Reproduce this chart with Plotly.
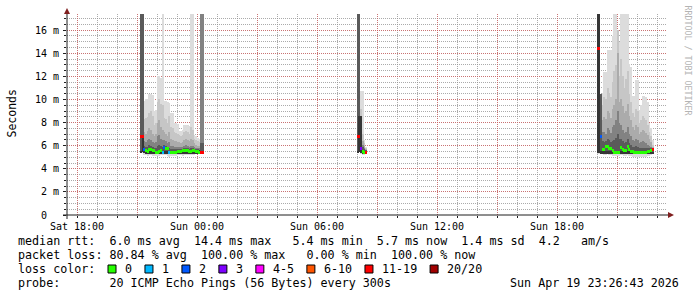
import plotly.graph_objects as go
import pandas as pd

# ---------------- data ----------------
STEP_MS = 300_000  # one probe round every 300 s
SEG_STARTS = ["2026-04-18 21:10:00", "2026-04-19 08:00:00", "2026-04-19 20:00:00"]

# segment 1 (Sat 21:10 .. Sun 00:15)
SEG1_L1 = [25, 25, 9.9, 10.0, 10.0, 10.5, 10.5, 10.4, 9.0, 9.1, 12.0, 12.0, 11.9, 25, 9.9, 9.9, 9.8, 9.7, 8.8, 8.8,
           8.0, 8.0, 7.9, 7.3, 7.3, 7.4, 7.8, 7.8, 7.8, 7.7, 25, 25, 6.9, 6.8, 6.7, 6.6, 25, 25]
SEG1_L2 = [25, 25, 8.3, 8.4, 8.5, 8.8, 9.0, 8.6, 7.8, 8.0, 9.8, 10.0, 9.6, 9.5, 8.4, 8.3, 8.0, 8.6, 7.6, 7.5,
           7.2, 7.1, 7.0, 6.9, 6.8, 6.9, 7.2, 7.3, 7.2, 7.0, 7.6, 7.4, 6.6, 6.5, 6.4, 6.3, 25, 25]
SEG1_L3 = [25, 25, 7.2, 7.0, 7.3, 7.5, 7.4, 7.0, 6.8, 7.0, 8.0, 8.2, 7.6, 7.4, 7.2, 7.0, 6.8, 7.2, 6.6, 6.5,
           6.4, 6.4, 6.3, 6.3, 6.2, 6.3, 6.5, 6.6, 6.5, 6.4, 6.6, 6.5, 6.2, 6.1, 6.0, 6.0, 25, 25]
SEG1_L4 = [25, 25, 6.4, 6.3, 6.5, 6.6, 6.5, 6.3, 6.2, 6.3, 6.8, 6.9, 6.6, 6.5, 6.5, 6.4, 6.2, 6.3, 6.0, 6.0,
           5.9, 5.9, 5.9, 5.9, 5.9, 5.9, 6.0, 6.1, 6.0, 5.9, 6.0, 6.0, 5.9, 5.8, 5.8, 5.8, 25, 25]
SEG1_L5 = [25, 25, 6.0, 5.9, 5.9, 6.1, 6.0, 5.9, 5.8, 5.8, 6.0, 6.1, 6.0, 5.9, 6.1, 6.0, 5.9, 5.8, 5.7, 5.7,
           5.7, 5.7, 5.7, 5.7, 5.7, 5.7, 5.8, 5.8, 5.8, 5.7, 5.8, 5.8, 5.7, 5.7, 5.7, 5.6, 6.2, 6.2]
SEG1_L6 = [5.5, 6.8, 5.8, 5.5, 5.5, 5.5, 5.5, 5.5, 5.5, 5.5, 5.5, 5.5, 5.5, 5.5, 5.5, 5.5, 5.5, 5.5, 5.5, 5.5,
           5.5, 5.5, 5.5, 5.5, 5.5, 5.5, 5.5, 5.5, 5.5, 5.5, 5.5, 5.5, 5.5, 5.5, 5.5, 5.6, 5.5, 5.5]
SEG1_MIN = [5.4, 5.4, 5.2, 5.2, 5.15, 5.2, 5.2, 5.15, 5.1, 5.1, 5.1, 5.15, 5.2, 5.2, 5.2, 5.2, 5.1, 5.05, 5.1, 5.1,
            5.15, 5.15, 5.2, 5.2, 5.2, 5.15, 5.2, 5.2, 5.2, 5.2, 5.2, 5.2, 5.2, 5.25, 5.25, 5.25, 5.3, 5.3]
SEG1_CORE_LOW = [5.45, 5.45, 5.35, 5.35, 5.3, 5.35, 5.35, 5.3, 5.3, 5.3, 5.3, 5.3, 5.35, 5.35, 5.35, 5.35, 5.3, 5.25,
                 5.3, 5.3, 5.3, 5.3, 5.35, 5.35, 5.35, 5.3, 5.35, 5.35, 5.35, 5.35, 5.35, 5.35, 5.35, 5.35, 5.35,
                 5.35, 5.35, 5.35]
SEG1_MEDIAN = [6.8, 6.8, 5.65, 5.55, 5.5, 5.7, 5.7, 5.6, 5.55, 5.45, 5.4, 5.5, 5.55, 5.45, 5.85, 5.8, 5.75, 5.4,
               5.45, 5.4, 5.45, 5.45, 5.5, 5.5, 5.5, 5.55, 5.6, 5.6, 5.55, 5.5, 5.5, 5.55, 5.55, 5.5, 5.5, 5.45,
               5.4, 5.4]
SEG1_LOSS = [15, 15, 2, 0, 0, 0, 0, 0, 0, 0, 0, 0, 0, 1, 2, 0, 0, 1, 0, 0,
             0, 0, 0, 0, 0, 0, 0, 0, 0, 0, 0, 0, 0, 0, 0, 0, 15, 15]

# segment 2 (Sun 08:00 .. 08:25)
SEG2_L1 = [25, 25, 10.7, 10.7, 6.5, 5.9]
SEG2_L2 = [25, 25, 9.2, 7.0, 6.2, 5.8]
SEG2_L3 = [25, 25, 8.6, 6.4, 6.0, 5.7]
SEG2_L4 = [25, 25, 8.6, 6.1, 5.8, 5.65]
SEG2_L5 = [25, 25, 8.6, 5.9, 5.7, 5.6]
SEG2_L6 = [5.5, 8.6, 8.6, 5.5, 5.5, 5.5]
SEG2_MIN = [5.45, 5.45, 5.3, 5.2, 5.2, 5.3]
SEG2_CORE_LOW = [5.45, 5.45, 5.4, 5.35, 5.35, 5.35]
SEG2_MEDIAN = [6.8, 6.8, 5.8, 5.5, 5.45, 5.45]
SEG2_LOSS = [15, 15, 3, 0, 0, 15]

# segment 3 (Sun 20:00 .. 22:45)
SEG3_L1 = [25, 25, 10.5, 10.6, 12.4, 12.4, 14.3, 14.3, 14.3, 15.5, 25, 25, 15.5, 15.0, 25, 25, 25, 25, 25, 13.1,
           12.8, 10.3, 10.3, 11.7, 11.7, 9.1, 9.5, 10.3, 10.3, 10.2, 9.8, 8.0, 7.5, 6.5]
SEG3_L2 = [25, 25, 10.5, 9.5, 10.2, 10.0, 11.0, 10.6, 10.2, 11.5, 12.5, 13.0, 16.0, 12.0, 13.5, 12.0, 11.0, 11.8,
           12.5, 10.5, 9.8, 8.8, 8.5, 9.2, 9.0, 8.0, 8.2, 8.6, 8.4, 8.2, 7.8, 7.2, 6.8, 6.1]
SEG3_L3 = [25, 25, 10.5, 8.2, 8.5, 8.3, 9.0, 8.8, 8.4, 9.2, 9.5, 10.0, 14.0, 9.8, 10.0, 9.4, 8.8, 9.0, 9.6, 8.6,
           8.2, 7.6, 7.4, 7.8, 7.6, 7.0, 7.2, 7.4, 7.3, 7.1, 6.9, 6.6, 6.3, 5.9]
SEG3_L4 = [25, 25, 10.5, 7.2, 7.2, 7.0, 7.5, 7.4, 7.1, 7.6, 7.8, 8.2, 9.0, 8.0, 7.8, 7.4, 7.1, 7.2, 7.6, 7.0,
           6.8, 6.5, 6.4, 6.6, 6.5, 6.2, 6.3, 6.4, 6.3, 6.2, 6.1, 6.0, 5.9, 5.8]
SEG3_L5 = [25, 25, 10.5, 6.4, 6.3, 6.4, 6.6, 6.5, 6.3, 6.4, 6.5, 6.7, 7.0, 6.6, 6.6, 6.4, 6.2, 6.3, 6.6, 6.2,
           6.1, 5.9, 5.9, 6.0, 5.9, 5.8, 5.8, 5.8, 5.8, 5.8, 5.8, 5.8, 5.8, 5.75]
SEG3_L6 = [25, 25, 5.5, 5.5, 5.5, 5.5, 5.5, 5.5, 5.5, 5.5, 5.5, 5.5, 5.5, 5.5, 5.5, 5.5, 5.5, 5.5, 5.5, 5.5,
           5.5, 5.45, 5.45, 5.45, 5.45, 5.45, 5.45, 5.45, 5.45, 5.45, 5.45, 5.45, 5.45, 5.45]
SEG3_MIN = [5.3, 5.3, 5.3, 5.25, 5.2, 5.2, 5.25, 5.2, 5.2, 5.15, 5.1, 5.1, 5.1, 5.15, 5.2, 5.2, 5.15, 5.15, 5.2,
            5.15, 5.1, 5.05, 5.05, 5.05, 5.05, 5.0, 5.0, 5.0, 5.05, 5.05, 5.1, 5.15, 5.2, 5.3]
SEG3_CORE_LOW = [5.35, 5.35, 5.35, 5.3, 5.3, 5.3, 5.3, 5.3, 5.3, 5.3, 5.3, 5.3, 5.3, 5.3, 5.3, 5.3, 5.3, 5.3, 5.3,
                 5.3, 5.25, 5.25, 5.25, 5.25, 5.25, 5.25, 5.25, 5.25, 5.25, 5.25, 5.25, 5.25, 5.3, 5.35]
SEG3_MEDIAN = [14.4, 14.4, 6.8, 5.7, 5.7, 5.9, 5.9, 5.8, 5.8, 5.55, 5.45, 5.45, 5.45, 5.45, 5.85, 5.7, 5.6, 5.6,
               5.9, 5.7, 5.5, 5.5, 5.45, 5.45, 5.45, 5.4, 5.4, 5.4, 5.45, 5.45, 5.5, 5.5, 5.6, 5.7]
SEG3_LOSS = [15, 15, 2, 0, 0, 0, 0, 0, 0, 0, 0, 0, 0, 0, 0, 0, 0, 0, 0, 0,
             0, 0, 0, 0, 0, 0, 0, 0, 0, 0, 0, 0, 0, 15]

X_RANGE = ["2026-04-18 17:30:00", "2026-04-19 23:30:00"]
X_TICKS = ["2026-04-18 18:00", "2026-04-18 21:00", "2026-04-19 00:00", "2026-04-19 03:00",
           "2026-04-19 06:00", "2026-04-19 09:00", "2026-04-19 12:00", "2026-04-19 15:00",
           "2026-04-19 18:00", "2026-04-19 21:00"]
X_TICK_LABELS = ["Sat 18:00", "", "Sun 00:00", "", "Sun 06:00", "", "Sun 12:00", "", "Sun 18:00", ""]
Y_TICKS = [0, 2, 4, 6, 8, 10, 12, 14, 16]
Y_TICK_LABELS = ["0", "2 m", "4 m", "6 m", "8 m", "10 m", "12 m", "14 m", "16 m"]

LOSS_LABELS = ["0", "1", "2", "3", "4-5", "6-10", "11-19", "20/20"]
LOSS_UPPER = [0, 1, 2, 3, 5, 10, 19, 20]
LOSS_COLORS = ["#26ff00", "#00b8ff", "#0059ff", "#7e00ff", "#ff00ff", "#ff5500", "#ff0000", "#a10000"]

STAT_LINES = [
    "median rtt:  6.0 ms avg  14.4 ms max   5.4 ms min  5.7 ms now  1.4 ms sd  4.2   am/s",
    "packet loss: 80.84 % avg  100.00 % max   0.00 % min  100.00 % now",
]
PROBE_LINE = "probe:       20 ICMP Echo Pings (56 Bytes) every 300s"
STAMP = "Sun Apr 19 23:26:43 2026"
WATERMARK = "RRDTOOL / TOBI OETIKER"

# ---------------- assemble ----------------
segments = [
    (SEG1_L1, SEG1_L2, SEG1_L3, SEG1_L4, SEG1_L5, SEG1_L6, SEG1_MIN, SEG1_CORE_LOW, SEG1_MEDIAN, SEG1_LOSS),
    (SEG2_L1, SEG2_L2, SEG2_L3, SEG2_L4, SEG2_L5, SEG2_L6, SEG2_MIN, SEG2_CORE_LOW, SEG2_MEDIAN, SEG2_LOSS),
    (SEG3_L1, SEG3_L2, SEG3_L3, SEG3_L4, SEG3_L5, SEG3_L6, SEG3_MIN, SEG3_CORE_LOW, SEG3_MEDIAN, SEG3_LOSS),
]
times = []
layers = [[] for _ in range(6)]
low, core_low, median, loss = [], [], [], []
for start, seg in zip(SEG_STARTS, segments):
    n = len(seg[0])
    times += list(pd.date_range(start, periods=n, freq="5min"))
    for k in range(6):
        layers[k] += seg[k]
    low += seg[6]
    core_low += seg[7]
    median += seg[8]
    loss += seg[9]


def loss_color(n):
    for up, c in zip(LOSS_UPPER, LOSS_COLORS):
        if n <= up:
            return c
    return LOSS_COLORS[-1]


def nb(s):
    return s.replace(" ", "\u00a0")


def pad_label(s):
    # rrdtool aligns the unit-less "0" with the numbers of the "N m" labels
    if " " in s:
        return nb(s)
    return s + "<span style='color:rgba(0,0,0,0)'>\u00a0m</span>"


SMOKE_COLORS = ["#dcdcdc", "#c6c6c6", "#ababab", "#828282", "#5a5a5a", "#363636"]
MED_HALF = 0.13

fig = go.Figure()
for k in range(6):
    base = low if k == 0 else core_low
    fig.add_trace(go.Bar(
        x=times, base=base, y=[t - b for t, b in zip(layers[k], base)],
        width=STEP_MS, offset=0, marker=dict(color=SMOKE_COLORS[k], line=dict(width=0)),
        hoverinfo="skip", showlegend=False))
fig.add_trace(go.Bar(
    x=times, base=[m - MED_HALF for m in median], y=[2 * MED_HALF] * len(median),
    width=STEP_MS, offset=0, marker=dict(color=[loss_color(n) for n in loss], line=dict(width=0)),
    hoverinfo="skip", showlegend=False))

# ---------------- layout ----------------
L, R, T, B = 67, 30, 14, 82
W, H = 697, 297
PW, PH = W - L - R, H - T - B


def px(xp):
    return (xp - L) / PW


def py(yp):
    return (H - B - yp) / PH


GRID = "rgba(143,143,143,0.75)"
MGRID = "rgba(222,79,79,0.6)"
AXIS = "#1f1f1f"
ARROW = "#801f1f"
MONO = "DejaVu Sans Mono"

fig.update_layout(
    width=W, height=H, margin=dict(l=L, r=R, t=T, b=B, pad=0),
    paper_bgcolor="white", plot_bgcolor="white", barmode="overlay", bargap=0,
    showlegend=False, font=dict(family=MONO, color="#000000", size=10),
)
fig.update_xaxes(
    type="date", range=X_RANGE, tickmode="array", tickvals=X_TICKS, ticktext=X_TICK_LABELS,
    showgrid=True, gridcolor=MGRID, griddash="1px,1px", gridwidth=1,
    ticks="outside", ticklen=2, tickcolor=AXIS, tickfont=dict(size=10, family=MONO),
    minor=dict(dtick=3600000, tick0="2026-04-18 00:00", showgrid=True, gridcolor=GRID,
               griddash="1px,1px", ticks="outside", ticklen=2, tickcolor=AXIS),
    showline=False, zeroline=False, fixedrange=True,
)
fig.update_yaxes(
    range=[0, 17.4], tickmode="array", tickvals=Y_TICKS,
    ticktext=[pad_label(t) for t in Y_TICK_LABELS],
    showgrid=True, gridcolor=MGRID, griddash="1px,1px", gridwidth=1,
    ticks="outside", ticklen=3, tickcolor=AXIS, tickfont=dict(size=10, family=MONO),
    ticklabelstandoff=2,
    minor=dict(dtick=0.5, tick0=0, showgrid=True, gridcolor=GRID, griddash="1px,1px",
               ticks="outside", ticklen=2, tickcolor=AXIS),
    showline=False, zeroline=False, fixedrange=True,
)

shapes = [
    dict(type="line", xref="paper", yref="paper", x0=px(63), x1=px(670), y0=0, y1=0,
         line=dict(color=AXIS, width=1)),
    dict(type="line", xref="paper", yref="paper", x0=0, x1=0, y0=py(219), y1=py(12),
         line=dict(color=AXIS, width=1)),
    dict(type="path", xref="paper", yref="paper",
         path=f"M {px(668)},{py(212)} L {px(674)},{py(215)} L {px(668)},{py(218)} Z",
         fillcolor=ARROW, line=dict(width=0)),
    dict(type="path", xref="paper", yref="paper",
         path=f"M {px(64)},{py(14)} L {px(67)},{py(8)} L {px(70)},{py(14)} Z",
         fillcolor=ARROW, line=dict(width=0)),
]

annotations = []
CHAR_W = 7.04
TEXT_X0 = 16
ROW_Y = [241, 255, 269, 283]
LEG_FONT = dict(family=MONO, size=11.7, color="#000000")

for i, line in enumerate(STAT_LINES):
    annotations.append(dict(text=nb(line), xref="paper", yref="paper", x=px(TEXT_X0), y=py(ROW_Y[i]),
                            xanchor="left", yanchor="middle", showarrow=False, font=LEG_FONT))
annotations.append(dict(text=nb("loss color:"), xref="paper", yref="paper", x=px(TEXT_X0), y=py(ROW_Y[2]),
                        xanchor="left", yanchor="middle", showarrow=False, font=LEG_FONT))
label_x = TEXT_X0 + 15.2 * CHAR_W
for lab, col in zip(LOSS_LABELS, LOSS_COLORS):
    bx = label_x - 15
    shapes.append(dict(type="rect", xref="paper", yref="paper", x0=px(bx), x1=px(bx + 8),
                       y0=py(ROW_Y[2] + 4), y1=py(ROW_Y[2] - 4), fillcolor=col,
                       line=dict(color="#000000", width=1)))
    annotations.append(dict(text=nb(lab), xref="paper", yref="paper", x=px(label_x), y=py(ROW_Y[2]),
                            xanchor="left", yanchor="middle", showarrow=False, font=LEG_FONT))
    label_x += (len(lab) + 4.25) * CHAR_W
annotations.append(dict(text=nb(PROBE_LINE), xref="paper", yref="paper", x=px(TEXT_X0), y=py(ROW_Y[3]),
                        xanchor="left", yanchor="middle", showarrow=False, font=LEG_FONT))
annotations.append(dict(text=nb(STAMP), xref="paper", yref="paper", x=px(681), y=py(ROW_Y[3]),
                        xanchor="right", yanchor="middle", showarrow=False, font=LEG_FONT))
annotations.append(dict(text="Seconds", xref="paper", yref="paper", x=px(11), y=py(113.5),
                        xanchor="center", yanchor="middle", textangle=-90, showarrow=False,
                        font=dict(family=MONO, size=11.5, color="#000000")))
annotations.append(dict(text=nb(WATERMARK), xref="paper", yref="paper", x=px(687.5), y=py(60),
                        xanchor="center", yanchor="middle", textangle=90, showarrow=False,
                        font=dict(family=MONO, size=8.3, color="#b4b4b4")))

fig.update_layout(shapes=shapes, annotations=annotations)
fig.write_html("out.html")
